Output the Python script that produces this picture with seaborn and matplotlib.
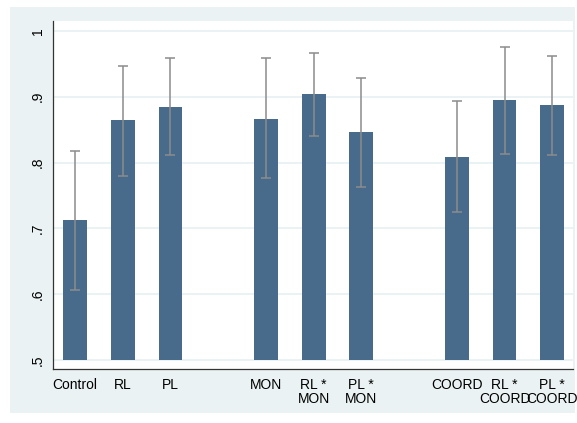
import numpy as np
import pandas as pd
import matplotlib
matplotlib.use("Agg")
import matplotlib.pyplot as plt
from matplotlib.patches import Rectangle
import seaborn as sns

# --- dados ---
labels = ["Control", "RL", "PL", "MON", "RL *\nMON", "PL *\nMON",
          "COORD", "RL *\nCOORD", "PL *\nCOORD"]
group = [0, 0, 0, 1, 1, 1, 2, 2, 2]
mean = [0.713, 0.864, 0.885, 0.867, 0.904, 0.847, 0.809, 0.895, 0.887]
ci_low = [0.606, 0.780, 0.812, 0.776, 0.841, 0.763, 0.725, 0.813, 0.811]
ci_high = [0.817, 0.947, 0.959, 0.959, 0.966, 0.929, 0.893, 0.976, 0.962]
yticks = [0.5, 0.6, 0.7, 0.8, 0.9, 1.0]
ytick_labels = [".5", ".6", ".7", ".8", ".9", "1"]
base = 0.5

df = pd.DataFrame({"label": labels, "group": group, "mean": mean,
                   "lo": ci_low, "hi": ci_high})
# slot com um espaco vazio entre grupos
df["slot"] = np.arange(len(df)) + df["group"]

sns.set_style("white")
plt.rcParams["font.family"] = ["Liberation Sans", "DejaVu Sans"]
plt.rcParams["font.size"] = 10

bg = "#eaf2f3"
bar_color = "#486a8b"
err_color = "#8c8c8c"

fig = plt.figure(figsize=(5.77, 4.23), dpi=100, facecolor="white")
fig.patches.append(Rectangle((10 / 577, 1 - 413 / 423), 565 / 577, 406 / 423,
                             transform=fig.transFigure, facecolor=bg,
                             edgecolor="none", zorder=-10))
ax = fig.add_axes([53 / 577, 1 - 369 / 423, 520 / 577, 348 / 423])
ax.set_facecolor("white")

sns.barplot(data=df, x="slot", y="mean", native_scale=True, width=0.5,
            color=bar_color, saturation=1, errorbar=None, linewidth=0, ax=ax)

# barras comecam em .5 como no Stata
for p in ax.patches:
    h = p.get_height()
    p.set_y(base)
    p.set_height(h - base)

ax.errorbar(df["slot"], df["mean"],
            yerr=[df["mean"] - df["lo"], df["hi"] - df["mean"]],
            fmt="none", ecolor=err_color, elinewidth=1.1, capsize=3.5,
            capthick=1.1, zorder=3)

ax.set_ylim(0.4863, 1.0152)
ax.set_xlim(-0.461, 10.434)
ax.set_yticks(yticks)
ax.set_yticklabels(ytick_labels, rotation=90, va="center")
ax.set_xticks(df["slot"])
ax.set_xticklabels(df["label"], linespacing=0.95)
ax.tick_params(axis="both", direction="out", length=3.6, width=0.8,
               color="#333333", labelcolor="black", labelsize=10)
ax.tick_params(axis="y", pad=2.5)
ax.tick_params(axis="x", pad=3)
ax.grid(axis="y", color=bg, linewidth=1.4)
ax.set_axisbelow(True)
ax.set_xlabel("")
ax.set_ylabel("")

for s in ["top", "right"]:
    ax.spines[s].set_visible(False)
for s in ["left", "bottom"]:
    ax.spines[s].set_color("#333333")
    ax.spines[s].set_linewidth(0.9)

fig.savefig("out.png", dpi=100, facecolor="white")
